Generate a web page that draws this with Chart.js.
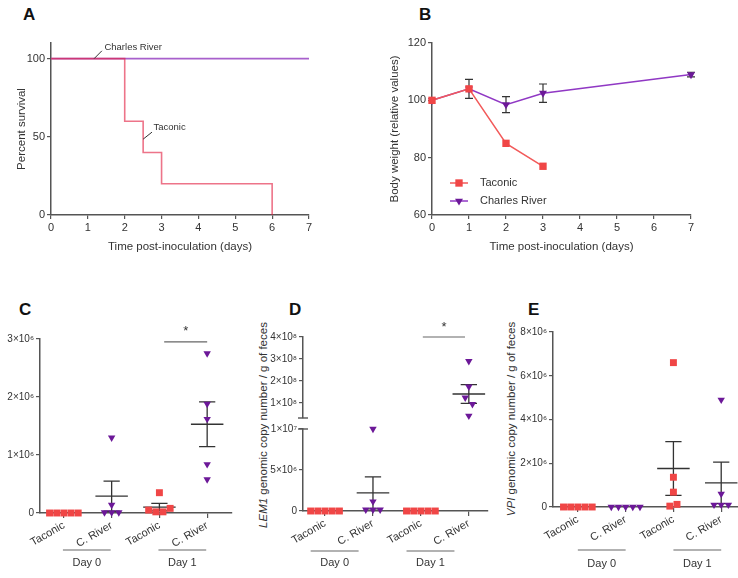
<!DOCTYPE html>
<html>
<head>
<meta charset="utf-8">
<script src="https://cdn.jsdelivr.net/npm/chart.js@4.4.0/dist/chart.umd.min.js"></script>
<style>
  body { margin: 0; background: #fff; width: 738px; height: 578px; overflow: hidden; position: relative;
         font-family: 'Liberation Sans', Arial, sans-serif; color: #333; }
  canvas { position: absolute; }
  .letter { position: absolute; font-weight: bold; font-size: 17px; color: #111; line-height: 1; }
  .ytitle { position: absolute; transform: translate(-50%, -50%) rotate(-90deg); white-space: nowrap; font-size: 11.5px; color: #333; }
</style>
</head>
<body>
<div class="letter" style="left:23px;top:6px">A</div>
<div class="letter" style="left:419px;top:6px">B</div>
<div class="letter" style="left:19px;top:301px">C</div>
<div class="letter" style="left:289px;top:301px">D</div>
<div class="letter" style="left:528px;top:301px">E</div>
<div class="ytitle" style="left:263px;top:425px"><i>LEM1</i> genomic copy number / g of feces</div>
<div class="ytitle" style="left:511px;top:419px"><i>VPI</i> genomic copy number / g of feces</div>

<canvas id="chartA" width="340" height="258" style="left:0;top:0"></canvas>
<canvas id="chartB" width="340" height="258" style="left:370px;top:0"></canvas>
<canvas id="chartC" width="245" height="288" style="left:0;top:290px"></canvas>
<canvas id="chartD" width="245" height="288" style="left:248px;top:290px"></canvas>
<canvas id="chartE" width="260" height="288" style="left:490px;top:290px"></canvas>

<script>
// ---- data ----
const seriesNames = ['Taconic', 'Charles River'];

// A: survival (%)
const survDaysTaconic = [0, 2, 2.5, 3, 6];
const survTaconic = [100, 60, 40, 20, 0];
const survDaysCR = [0, 7];
const survCR = [100, 100];

// B: body weight (relative)
const weightDaysTaconic = [0, 1, 2, 3];
const weightTaconic = [100, 104, 85, 77];
const weightDaysCR = [0, 1, 2, 3, 7];
const weightCR = [100, 104, 98.5, 102.5, 109];
const weightCRsem = [0, 3.3, 2.8, 3.2, 0.8];

// C-E: strip plots
const groupLabels = ['Taconic', 'C. River', 'Taconic', 'C. River'];
const dayLabels = ['Day 0', 'Day 1'];

const cValues = [
  [0, 0, 0, 0, 0],
  [1.3e6, 0.14e6, 0.01e6, 0.01e6, 0.01e6],
  [0.35e6, 0.05e6, 0.02e6, 0.02e6, 0.08e6],
  [2.75e6, 1.88e6, 1.62e6, 0.84e6, 0.58e6]
];
const cMean = [0, 0.29e6, 0.10e6, 1.53e6];
const cSem = [0, 0.26e6, 0.065e6, 0.385e6];
const cTicks = [0, 1e6, 2e6, 3e6];

const dValues = [
  [0, 0, 0, 0, 0],
  [10.0e6, 1.15e6, 0.15e6, 0.15e6, 0.15e6],
  [0, 0, 0, 0, 0],
  [2.9e8, 1.74e8, 1.24e8, 0.95e8, 0.42e8]
];
const dMean = [0, 2.2e6, 0, 1.41e8];
const dSem = [0, 1.95e6, 0, 0.43e8];
const dTicksLow = [0, 5e6, 1e7];
const dTicksHigh = [1e8, 2e8, 3e8, 4e8];

const eValues = [
  [0, 0, 0, 0, 0],
  [0, 0, 0, 0, 0],
  [6.6e6, 1.36e6, 0.68e6, 0.04e6, 0.12e6],
  [4.9e6, 0.6e6, 0.1e6, 0.1e6, 0.1e6]
];
const eMean = [0, 0, 1.76e6, 1.1e6];
const eSem = [0, 0, 1.23e6, 0.95e6];
const eTicks = [0, 2e6, 4e6, 6e6, 8e6];

// ---- style ----
const RED = '#f04646';
const PURPLE = '#6c1898';
const AXIS = '#555';

Chart.defaults.font.family = "'Liberation Sans', Arial, sans-serif";
Chart.defaults.color = '#333';
Chart.defaults.animation = false;
Chart.defaults.responsive = false;
Chart.defaults.plugins.legend.display = false;
Chart.defaults.plugins.tooltip.enabled = false;

const toPts = (xs, ys) => xs.map((x, i) => ({x, y: ys[i]}));

const SUP = {'6': '⁶', '7': '⁷', '8': '⁸'};
function sci(v) {
  if (v === 0) return '0';
  const e = Math.floor(Math.log10(v) + 1e-9);
  const m = Math.round(v / Math.pow(10, e));
  return m + '×10' + SUP[e];
}

function linAxis(pos, min, max, ticks, size, extra) {
  const ax = {
    type: 'linear', position: pos, min, max,
    border: {display: true, color: AXIS, width: 1.5},
    grid: {drawOnChartArea: false, color: AXIS, tickLength: 4, lineWidth: 1.2},
    ticks: {font: {size: 11}, padding: 2, color: '#333'},
    afterBuildTicks: s => { s.ticks = ticks.map(v => ({value: v})); },
    afterFit: s => { if (pos === 'left') s.width = size; else s.height = size; }
  };
  return Object.assign(ax, extra || {});
}

// spread points that would overlap side by side
function spread(values, cat, tol, step) {
  const pts = values.map(v => ({x: cat, y: v}));
  const used = values.map(() => false);
  for (let i = 0; i < values.length; i++) {
    if (used[i]) continue;
    const cluster = [i];
    used[i] = true;
    for (let j = i + 1; j < values.length; j++) {
      if (!used[j] && cluster.some(k => Math.abs(values[k] - values[j]) < tol)) {
        cluster.push(j);
        used[j] = true;
      }
    }
    cluster.forEach((k, n) => { pts[k].x = cat + (n - (cluster.length - 1) / 2) * step; });
  }
  return pts;
}

// ---- A ----
const annotA = {
  id: 'annotA',
  afterDatasetsDraw(chart) {
    const {ctx, scales: {x, y}} = chart;
    ctx.save();
    ctx.strokeStyle = '#333';
    ctx.lineWidth = 1;
    ctx.fillStyle = '#333';
    ctx.font = "9.5px 'Liberation Sans', Arial, sans-serif";
    ctx.textBaseline = 'middle';
    ctx.beginPath();
    ctx.moveTo(x.getPixelForValue(1.17), y.getPixelForValue(100));
    ctx.lineTo(x.getPixelForValue(1.38), y.getPixelForValue(105));
    ctx.moveTo(x.getPixelForValue(2.5), y.getPixelForValue(48.5));
    ctx.lineTo(x.getPixelForValue(2.74), y.getPixelForValue(53));
    ctx.stroke();
    ctx.fillText(seriesNames[1], x.getPixelForValue(1.45), y.getPixelForValue(107.5));
    ctx.fillText(seriesNames[0], x.getPixelForValue(2.78), y.getPixelForValue(56));
    ctx.restore();
  }
};

new Chart(document.getElementById('chartA'), {
  type: 'scatter',
  data: {datasets: [
    {label: seriesNames[0], data: toPts(survDaysTaconic, survTaconic), showLine: true, stepped: true,
     borderColor: 'rgba(226,30,64,0.62)', borderWidth: 1.6, pointRadius: 0},
    {label: seriesNames[1], data: toPts(survDaysCR, survCR), showLine: true,
     borderColor: '#a860cc', borderWidth: 1.6, pointRadius: 0}
  ]},
  options: {
    layout: {padding: {top: 43, right: 31, left: 11, bottom: 0}},
    scales: {
      x: linAxis('bottom', 0, 7, [0, 1, 2, 3, 4, 5, 6, 7], 43,
        {title: {display: true, text: 'Time post-inoculation (days)', font: {size: 11.5}, color: '#333'}}),
      y: linAxis('left', 0, 110, [0, 50, 100], 40,
        {title: {display: true, text: 'Percent survival', font: {size: 11.5}, color: '#333'}})
    }
  },
  plugins: [annotA]
});

// ---- B ----
const semB = {
  id: 'semB',
  beforeDatasetsDraw(chart) {
    const {ctx, scales: {x, y}} = chart;
    ctx.save();
    ctx.strokeStyle = '#333';
    ctx.lineWidth = 1.2;
    weightDaysCR.forEach((d, i) => {
      if (!weightCRsem[i]) return;
      const px = x.getPixelForValue(d);
      const hi = y.getPixelForValue(weightCR[i] + weightCRsem[i]);
      const lo = y.getPixelForValue(weightCR[i] - weightCRsem[i]);
      ctx.beginPath();
      ctx.moveTo(px, hi); ctx.lineTo(px, lo);
      ctx.moveTo(px - 4, hi); ctx.lineTo(px + 4, hi);
      ctx.moveTo(px - 4, lo); ctx.lineTo(px + 4, lo);
      ctx.stroke();
    });
    ctx.restore();
  }
};

const legendB = {
  id: 'legendB',
  afterDraw(chart) {
    const {ctx, chartArea} = chart;
    ctx.save();
    ctx.font = "11px 'Liberation Sans', Arial, sans-serif";
    ctx.textBaseline = 'middle';
    chart.data.datasets.forEach((ds, i) => {
      const y = chartArea.top + 140 + i * 18;
      const x0 = chartArea.left + 18;
      ctx.strokeStyle = ds.borderColor;
      ctx.lineWidth = 1.5;
      ctx.beginPath(); ctx.moveTo(x0, y); ctx.lineTo(x0 + 18, y); ctx.stroke();
      ctx.fillStyle = ds.pointBackgroundColor;
      Chart.helpers.drawPoint(ctx, {pointStyle: ds.pointStyle, radius: ds.pointRadius, rotation: ds.pointRotation, borderWidth: 0}, x0 + 9, y);
      ctx.fillStyle = '#333';
      ctx.fillText(ds.label, x0 + 30, y);
    });
    ctx.restore();
  }
};

new Chart(document.getElementById('chartB'), {
  type: 'scatter',
  data: {datasets: [
    {label: seriesNames[0], data: toPts(weightDaysTaconic, weightTaconic), showLine: true, clip: false,
     borderColor: '#f25a5a', borderWidth: 1.5, pointStyle: 'rect', pointRadius: 5.2,
     pointBackgroundColor: RED, pointBorderWidth: 0, pointRotation: 0},
    {label: seriesNames[1], data: toPts(weightDaysCR, weightCR), showLine: true, clip: false,
     borderColor: '#9038c4', borderWidth: 1.5, pointStyle: 'triangle', pointRadius: 4.6,
     pointBackgroundColor: PURPLE, pointBorderWidth: 0, pointRotation: 180}
  ]},
  options: {
    layout: {padding: {top: 43, right: 19, left: 14, bottom: 0}},
    scales: {
      x: linAxis('bottom', 0, 7, [0, 1, 2, 3, 4, 5, 6, 7], 43,
        {title: {display: true, text: 'Time post-inoculation (days)', font: {size: 11.5}, color: '#333'}}),
      y: linAxis('left', 60, 120, [60, 80, 100, 120], 48,
        {title: {display: true, text: 'Body weight (relative values)', font: {size: 11.5}, color: '#333'}})
    }
  },
  plugins: [semB, legendB]
});

// ---- C-E strip plots ----
function stripPlugin(p) {
  return {
    id: 'strip',
    beforeDatasetsDraw(chart) {
      const {ctx, scales} = chart;
      const x = scales.x;
      ctx.save();
      ctx.strokeStyle = '#333';
      ctx.lineWidth = 1.3;
      p.mean.forEach((m, i) => {
        if (!m) return;
        const ys = scales[p.axisOf[i]];
        const c = i + 1;
        const cx = x.getPixelForValue(c);
        const hm = x.getPixelForValue(c + 0.34) - cx;
        const hc = x.getPixelForValue(c + 0.17) - cx;
        const ym = ys.getPixelForValue(m);
        const hi = ys.getPixelForValue(m + p.sem[i]);
        const lo = ys.getPixelForValue(Math.max(m - p.sem[i], ys.min));
        ctx.beginPath();
        ctx.moveTo(cx - hm, ym); ctx.lineTo(cx + hm, ym);
        ctx.moveTo(cx, hi); ctx.lineTo(cx, lo);
        ctx.moveTo(cx - hc, hi); ctx.lineTo(cx + hc, hi);
        ctx.moveTo(cx - hc, lo); ctx.lineTo(cx + hc, lo);
        ctx.stroke();
      });
      ctx.restore();
    },
    afterDraw(chart) {
      const {ctx, chartArea, scales} = chart;
      const x = scales.x;
      ctx.save();
      ctx.strokeStyle = '#666';
      ctx.lineWidth = 1.2;
      ctx.fillStyle = '#333';
      ctx.font = "11px 'Liberation Sans', Arial, sans-serif";
      ctx.textAlign = 'center';
      ctx.textBaseline = 'middle';
      // day group lines
      dayLabels.forEach((lab, g) => {
        const x1 = x.getPixelForValue(2 * g + 1 + p.dayShift);
        const x2 = x.getPixelForValue(2 * g + 2 + p.dayShift);
        const yl = chartArea.bottom + p.dayLine;
        ctx.beginPath(); ctx.moveTo(x1, yl); ctx.lineTo(x2, yl); ctx.stroke();
        ctx.fillText(lab, (x1 + x2) / 2, chartArea.bottom + p.dayText);
      });
      // significance bar
      if (p.sig) {
        const ys = scales[p.sig.axis];
        const yb = ys.getPixelForValue(p.sig.y);
        const x1 = x.getPixelForValue(p.sig.from), x2 = x.getPixelForValue(p.sig.to);
        ctx.beginPath(); ctx.moveTo(x1, yb); ctx.lineTo(x2, yb); ctx.stroke();
        ctx.font = "13px 'Liberation Sans', Arial, sans-serif";
        ctx.fillText('*', (x1 + x2) / 2, yb - 10);
      }
      // axis break caps
      if (p.breakAxes) {
        ctx.strokeStyle = AXIS;
        ctx.lineWidth = 1.4;
        const ax = chartArea.left;
        [scales.yTop.bottom, scales.y.top].forEach(py => {
          ctx.beginPath(); ctx.moveTo(ax - 5, py); ctx.lineTo(ax + 5, py); ctx.stroke();
        });
      }
      ctx.restore();
    }
  };
}

function stripChart(id, p) {
  const datasets = p.values.map((vals, i) => {
    const cr = i % 2 === 1;
    const axisId = p.axisOf[i];
    return {
      data: spread(vals, i + 1, p.tol[axisId], 0.15),
      yAxisID: axisId,
      clip: false,
      pointStyle: cr ? 'triangle' : 'rect',
      pointRotation: cr ? 180 : 0,
      pointRadius: cr ? 4.3 : 4.9,
      pointBackgroundColor: cr ? PURPLE : RED,
      pointBorderWidth: 0
    };
  });
  const xAxis = linAxis('bottom', p.xMin, p.xMax, [1, 2, 3, 4], p.xHeight, {});
  xAxis.ticks = {font: {size: 11}, color: '#333', padding: 1, minRotation: 30, maxRotation: 30,
                 callback: v => groupLabels[v - 1]};
  xAxis.grid = {drawOnChartArea: false, color: AXIS, tickLength: 5, lineWidth: 1.2};
  return new Chart(document.getElementById(id), {
    type: 'scatter',
    data: {datasets},
    options: {
      layout: {padding: p.padding},
      scales: Object.assign({x: xAxis}, p.yScales)
    },
    plugins: [stripPlugin(p)]
  });
}

const sciTicks = {font: {size: 10}, padding: 2, color: '#333', callback: sci};

stripChart('chartC', {
  values: cValues, mean: cMean, sem: cSem,
  axisOf: ['y', 'y', 'y', 'y'],
  tol: {y: 3e6 * 7 / 174},
  xMin: 0.5, xMax: 4.52, xHeight: 65,
  padding: {top: 49, right: 13, left: 0, bottom: 0},
  yScales: {y: linAxis('left', 0, 3e6, cTicks, 40, {ticks: sciTicks})},
  dayShift: -0.02, dayLine: 37, dayText: 50,
  sig: {from: 3.1, to: 4.0, y: 2.95e6, axis: 'y'}
});

stripChart('chartD', {
  values: dValues, mean: dMean, sem: dSem,
  axisOf: ['y', 'y', 'y', 'yTop'],
  tol: {y: 1e7 * 7 / 82, yTop: 3.68e8 * 7 / 81},
  xMin: 0.54, xMax: 4.4, xHeight: 67,
  padding: {top: 47, right: 5, left: 0, bottom: 0},
  yScales: {
    y: linAxis('left', 0, 1e7, dTicksLow, 55, {ticks: sciTicks, stack: 'd', stackWeight: 82}),
    yGap: {type: 'linear', position: 'left', stack: 'd', stackWeight: 11, min: 0, max: 1,
           border: {display: false}, grid: {display: false}, ticks: {display: false},
           afterFit: s => { s.width = 55; }},
    yTop: linAxis('left', 0.32e8, 4e8, dTicksHigh, 55, {ticks: sciTicks, stack: 'd', stackWeight: 81})
  },
  breakAxes: true,
  dayShift: -0.3, dayLine: 40, dayText: 52,
  sig: {from: 3.04, to: 3.92, y: 4.0e8, axis: 'yTop'}
});

stripChart('chartE', {
  values: eValues, mean: eMean, sem: eSem,
  axisOf: ['y', 'y', 'y', 'y'],
  tol: {y: 8e6 * 7 / 175},
  xMin: 0.48, xMax: 4.5, xHeight: 71,
  padding: {top: 42, right: 4, left: 0, bottom: 0},
  yScales: {y: linAxis('left', 0, 8e6, eTicks, 63, {ticks: sciTicks})},
  dayShift: 0, dayLine: 43, dayText: 57
});
</script>
</body>
</html>
